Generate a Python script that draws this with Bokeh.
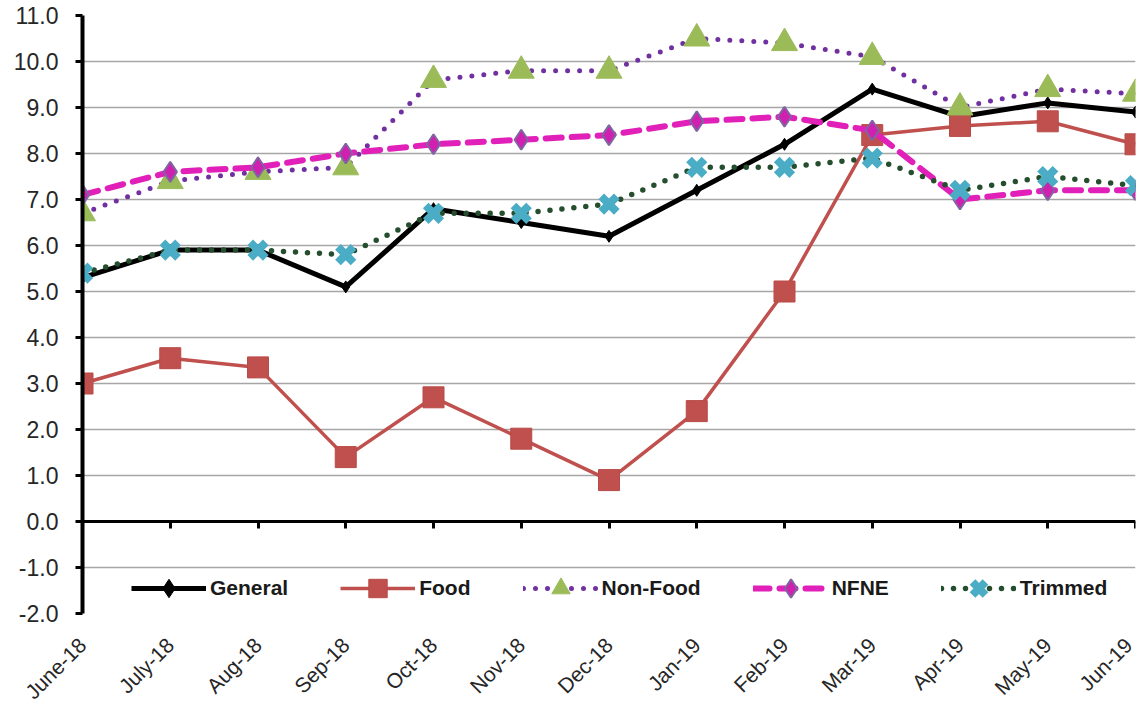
import math
from bokeh.plotting import figure
from bokeh.models import (Range1d, FixedTicker, NumeralTickFormatter, LinearAxis,
                          Legend, LegendItem)
from bokeh.embed import file_html
from bokeh.resources import INLINE

months = ["June-18", "July-18", "Aug-18", "Sep-18", "Oct-18", "Nov-18", "Dec-18",
          "Jan-19", "Feb-19", "Mar-19", "Apr-19", "May-19", "Jun-19"]
general = [5.3, 5.9, 5.9, 5.1, 6.8, 6.5, 6.2, 7.2, 8.2, 9.4, 8.8, 9.1, 8.9]
food = [3.0, 3.55, 3.35, 1.4, 2.7, 1.8, 0.9, 2.4, 5.0, 8.4, 8.6, 8.7, 8.2]
non_food = [6.7, 7.4, 7.6, 7.7, 9.6, 9.8, 9.8, 10.5, 10.4, 10.1, 9.0, 9.4, 9.3]
nfne = [7.1, 7.6, 7.7, 8.0, 8.2, 8.3, 8.4, 8.7, 8.8, 8.5, 7.0, 7.2, 7.2]
trimmed = [5.4, 5.9, 5.9, 5.8, 6.7, 6.7, 6.9, 7.7, 7.7, 7.9, 7.2, 7.5, 7.3]
y_ticks = list(range(-2, 12))

x = list(range(len(months)))
FONT = "Liberation Sans"

p = figure(width=1136, height=714, output_backend="svg", toolbar_location=None,
           x_range=Range1d(0, len(months) - 1), y_range=Range1d(-2, 11),
           min_border_left=82, min_border_right=1, min_border_top=15, min_border_bottom=96)
p.outline_line_color = None
p.background_fill_color = "white"

# axes
p.yaxis.ticker = FixedTicker(ticks=y_ticks)
p.yaxis.formatter = NumeralTickFormatter(format="0.0")
p.yaxis.axis_line_width = 4
p.yaxis.axis_line_color = "black"
p.yaxis.major_tick_line_width = 3
p.yaxis.major_tick_out = 7
p.yaxis.major_tick_in = 0
p.yaxis.minor_tick_line_color = None
p.yaxis.major_label_text_font = FONT
p.yaxis.major_label_text_font_size = "23px"
p.yaxis.major_label_text_color = "#262626"
p.yaxis.major_label_standoff = 17

p.xaxis.ticker = FixedTicker(ticks=x)
p.xaxis.major_label_overrides = {i: m for i, m in enumerate(months)}
p.xaxis.major_label_orientation = math.pi / 4
p.xaxis.axis_line_color = None
p.xaxis.major_tick_line_color = None
p.xaxis.minor_tick_line_color = None
p.xaxis.major_label_text_font = FONT
p.xaxis.major_label_text_font_size = "21px"
p.xaxis.major_label_text_color = "#262626"
p.xaxis.major_label_standoff = 22

zero_axis = LinearAxis(fixed_location=0, ticker=FixedTicker(ticks=x),
                       axis_line_width=3, axis_line_color="black",
                       major_tick_line_width=3, major_tick_out=7, major_tick_in=0,
                       minor_tick_line_color=None,
                       major_label_overrides={i: "" for i in x})
p.add_layout(zero_axis, "below")

p.xgrid.grid_line_color = None
p.ygrid.ticker = FixedTicker(ticks=y_ticks)
p.ygrid.grid_line_color = "#A6A6A6"
p.ygrid.grid_line_width = 1.5

# series
r_gen_l = p.line(x, general, line_color="black", line_width=5)
r_gen_m = p.scatter(x, general, marker="diamond", size=12, color="black")

r_food_l = p.line(x, food, line_color="#C0504D", line_width=3.5)
r_food_m = p.scatter(x, food, marker="square", size=21, fill_color="#C0504D",
                     line_color="#B84A47", line_width=1)

r_nf_l = p.line(x, non_food, line_color="#7030A0", line_width=5,
                line_dash="0 12", line_cap="round")
r_nf_m = p.scatter(x, non_food, marker="triangle", size=26, fill_color="#9BBB59",
                   line_color="#9BBB59")

r_nfne_l = p.line(x, nfne, line_color="#E020B8", line_width=6,
                  line_dash="16 10", line_cap="round")
r_nfne_m = p.scatter(x, nfne, marker="diamond", size=20, fill_color="#D020B0",
                     line_color="#8064A2", line_width=2)

r_tr_l = p.line(x, trimmed, line_color="#254E2E", line_width=5.5,
                line_dash="0 12", line_cap="round")
r_tr_m = p.scatter(x, trimmed, marker="x", size=22, line_color="#4BACC6",
                   line_width=8)

legend = Legend(items=[
    LegendItem(label="General", renderers=[r_gen_l, r_gen_m]),
    LegendItem(label="Food", renderers=[r_food_l, r_food_m]),
    LegendItem(label="Non-Food", renderers=[r_nf_l, r_nf_m]),
    LegendItem(label="NFNE", renderers=[r_nfne_l, r_nfne_m]),
    LegendItem(label="Trimmed", renderers=[r_tr_l, r_tr_m]),
], orientation="horizontal", location=(49, 2))
legend.border_line_color = None
legend.background_fill_alpha = 0
legend.glyph_width = 75
legend.glyph_height = 46
legend.label_height = 46
legend.label_standoff = 4
legend.spacing = 52
legend.label_text_font = FONT
legend.label_text_font_style = "bold"
legend.label_text_font_size = "21px"
legend.label_text_color = "#1a1a1a"
legend.padding = 2
p.add_layout(legend, "center")

open("out.html", "w").write(file_html(p, INLINE))
